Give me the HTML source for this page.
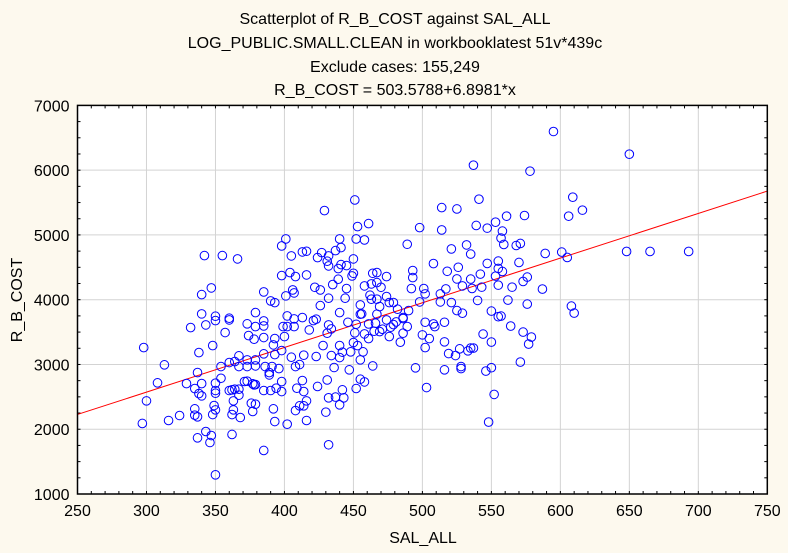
<!DOCTYPE html>
<html><head><meta charset="utf-8"><style>
html,body{margin:0;padding:0;background:#fdf9ee;}
svg{display:block;font-family:"Liberation Sans",Arial,sans-serif;}
</style></head><body>
<svg id="chart" width="788" height="553" viewBox="0 0 788 553" xmlns="http://www.w3.org/2000/svg">
<rect x="0" y="0" width="788" height="553" fill="#fdf9ee"/>
<g font-size="16" text-anchor="middle" fill="#000">
<text x="395" y="24">Scatterplot of R_B_COST against SAL_ALL</text>
<text x="395" y="48">LOG_PUBLIC.SMALL.CLEAN in workbooklatest 51v*439c</text>
<text x="395" y="72">Exclude cases: 155,249</text>
<text x="395" y="95">R_B_COST = 503.5788+6.8981*x</text>
</g>
<rect x="77.5" y="105.4" width="689.8" height="388.6" fill="#fff"/>
<g id="grid"></g>
<g id="ticks"></g>
<g id="labels" font-size="16" fill="#000"></g>
<line id="fit" stroke="#ff0000" stroke-width="1"/>
<g id="pts"></g>
<rect x="77.5" y="105.4" width="689.8" height="388.6" fill="none" stroke="#000" stroke-width="1.5"/>
<text x="423" y="543" font-size="16" text-anchor="middle">SAL_ALL</text>
<text x="0" y="0" font-size="16" text-anchor="middle" transform="translate(22,300) rotate(-90)">R_B_COST</text>
</svg>
<script>
const xTicks=[250,300,350,400,450,500,550,600,650,700,750];
const yTicks=[1000,2000,3000,4000,5000,6000,7000];
const fitIntercept=503.5788;
const fitSlope=6.8981;
const salAll=[401,398,405,413,416,342,355,366,398,404,408,416,340,347,385,390,393,401,406,407,340,350,350,343,360,360,332,379,373,379,385,385,357,374,378,385,402,407,413,399,402,407,418,393,400,392,298,338,348,367,364,373,379,385,393,398,405,414,313,354,360,367,373,379,386,391,396,408,411,337,354,373,377,379,389,389,398,413,308,329,335,340,338,340,350,350,350,360,362,364,367,367,371,378,385,390,394,398,409,414,300,335,349,350,363,363,376,379,377,392,408,411,414,416,297,316,324,335,337,348,362,368,393,402,416,343,337,347,346,362,385,350,
451,429,453,461,440,452,458,489,514,525,498,514,424,427,432,437,441,431,432,439,441,445,450,450,449,464,467,474,439,435,422,426,445,458,463,467,470,493,493,492,508,518,526,532,521,525,529,501,502,517,513,444,432,426,462,463,467,474,455,469,476,479,482,490,486,498,513,521,525,529,440,421,423,455,456,467,466,474,481,489,479,486,446,432,434,431,452,461,465,469,471,477,458,451,476,484,486,502,508,509,516,500,505,502,516,519,524,527,533,461,450,453,457,448,440,442,440,434,428,423,455,464,447,436,431,455,458,452,442,503,495,516,528,528,424,432,437,443,440,430,432,
595,650,537,578,541,609,616,606,539,547,553,561,574,558,557,559,535,568,571,589,601,605,648,665,693,547,555,570,555,558,542,553,535,576,573,555,543,565,536,587,540,562,576,608,610,550,555,557,564,573,579,577,544,550,535,537,571,550,546,552,548];
const rbCost=[4938,4830,4676,4738,4748,4681,4681,4630,4372,4419,4357,4383,4079,4182,4120,3981,3955,4059,4151,4105,3781,3745,3678,3611,3714,3688,3570,3801,3627,3585,3595,3673,3493,3446,3390,3416,3750,3704,3724,3585,3585,3585,3534,3400,3431,3302,3261,3184,3292,3133,3045,3071,3071,3164,3153,3215,3112,3143,2994,2968,3030,2968,2968,2978,2968,2968,2937,2968,2999,2875,2787,2742,2701,2690,2875,2839,2736,2752,2716,2705,2628,2705,2551,2515,2711,2598,2556,2598,2608,2618,2618,2526,2737,2685,2598,2598,2634,2582,2634,2582,2438,2315,2366,2299,2438,2299,2402,2387,2274,2315,2289,2361,2361,2438,2089,2135,2212,2217,2192,2227,2227,2181,2119,2078,2135,1965,1867,1903,1795,1919,1672,1296,
5540,5376,5129,5175,4938,4938,4923,4856,5422,5401,5113,5077,4650,4727,4676,4758,4805,4594,4522,4481,4542,4527,4630,4408,4367,4408,4419,4357,4316,4234,4192,4151,4172,4213,4244,4264,4192,4450,4342,4172,4558,4439,4501,4846,4784,4321,4213,4172,4090,4167,4090,4023,4023,3909,4069,4008,4008,4049,3920,3894,3956,3956,3853,3832,3709,3966,3966,3956,3832,3791,3801,3678,3699,3776,3781,3776,3637,3688,3657,3585,3616,3724,3652,3611,3549,3483,3621,3626,3513,3508,3544,3575,3472,3488,3431,3344,3483,3652,3626,3585,3652,3457,3400,3261,3349,3169,3138,3241,3210,3400,3339,3292,3195,3195,3292,3190,3107,3138,3292,3123,3071,2978,2917,2953,2761,2772,2731,2629,2608,2644,2948,2917,2968,2937,2660,2485,2496,2485,2377,2264,1760,
6597,6247,6077,5985,5552,5583,5383,5290,5146,5105,5197,5290,5300,5059,4951,4853,4704,4837,4868,4714,4735,4652,4745,4745,4745,4560,4596,4575,4483,4436,4395,4364,4318,4349,4282,4225,4194,4194,4174,4164,3989,3994,3932,3901,3793,3824,3737,3747,3593,3500,3423,3315,3469,3346,3253,3253,3037,2950,2898,2538,2111];

const NS='http://www.w3.org/2000/svg';
const X0=77.5,X1=767.3,Y0=494,Y1=105.4;
function sx(v){return X0+(v-250)/500*(X1-X0);}
function sy(v){return Y0-(v-1000)/6000*(Y0-Y1);}
function mk(tag,attrs,parent){const e=document.createElementNS(NS,tag);for(const k in attrs)e.setAttribute(k,attrs[k]);parent.appendChild(e);return e;}
const grid=document.getElementById('grid'),ticks=document.getElementById('ticks'),labels=document.getElementById('labels'),pts=document.getElementById('pts');
xTicks.forEach(function(t){
  const x=sx(t);
  if(t>250&&t<750){const g=mk('line',{x1:x,x2:x,y1:Y1,y2:Y0,stroke:'#d3d3d3','stroke-width':1},grid);
  
  }
  const l=mk('text',{x:x,y:Y0+22,'text-anchor':'middle'},labels);
  l.textContent=t;
  
  
});
yTicks.forEach(function(t){
  const y=sy(t);
  if(t>1000&&t<7000){const g=mk('line',{x1:X0,x2:X1,y1:y,y2:y,stroke:'#d3d3d3','stroke-width':1},grid);
  
  }
  const l=mk('text',{x:X0-8,y:y+6,'text-anchor':'end'},labels);
  l.textContent=t;
  
  
});
for(let v=260;v<750;v+=10){const x=sx(v);
  const a=mk('line',{x1:x,x2:x,y1:Y0,y2:Y0-3,stroke:'#000'},ticks);
  
  
  const b=mk('line',{x1:x,x2:x,y1:Y1,y2:Y1+3,stroke:'#000'},ticks);
  
  }
for(let v=1250;v<7000;v+=250){const y=sy(v);
  const a=mk('line',{x1:X0,x2:X0+3,y1:y,y2:y,stroke:'#000'},ticks);
  
  
  const b=mk('line',{x1:X1,x2:X1-3,y1:y,y2:y,stroke:'#000'},ticks);
  
  }
const fit=document.getElementById('fit');
fit.setAttribute('x1',sx(250));fit.setAttribute('y1',sy(fitIntercept+fitSlope*250));
fit.setAttribute('x2',sx(750));fit.setAttribute('y2',sy(fitIntercept+fitSlope*750));
salAll.forEach(function(v,i){
  const c=mk('circle',{cx:sx(v),cy:sy(rbCost[i]),r:4.3,fill:'none',stroke:'#0000ff','stroke-width':1},pts);
  
  
});
</script>
</body></html>
